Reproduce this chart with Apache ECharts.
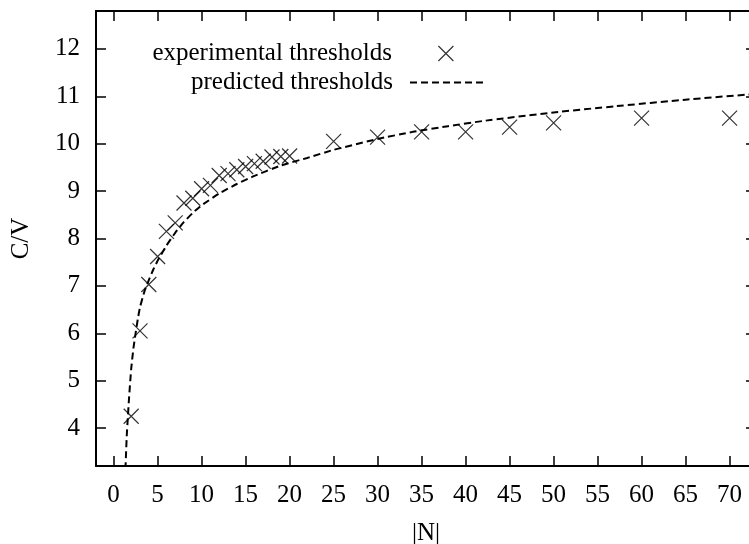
<!DOCTYPE html>
<html><head><meta charset="utf-8">
<script src="https://cdn.jsdelivr.net/npm/echarts@6/dist/echarts.min.js"></script>
<style>html,body{margin:0;padding:0;background:#fff}#c{width:749px;height:544px}</style>
</head><body><div id="c"></div>
<script>
const expN = [2,3,4,5,6,7,8,9,10,11,12,13,14,15,16,17,18,19,20,25,30,35,40,45,50,60,70];
const expV = [4.25,6.05,7.03,7.62,8.15,8.33,8.75,8.85,9.05,9.12,9.33,9.37,9.45,9.52,9.58,9.63,9.72,9.73,9.74,10.05,10.14,10.25,10.25,10.35,10.44,10.54,10.54];
const predN = [1.3,1.4,1.5,1.6,1.75,2,2.25,2.5,2.75,3,3.5,4,4.5,5,6,7,8,9,10,12,14,16,19,22,25,30,34,38,42,50,57,65,73];
const predV = [2.9,3.4,3.86,4.17,4.62,5.25,5.68,6.0,6.3,6.55,6.88,7.12,7.34,7.53,7.85,8.12,8.35,8.54,8.7,8.95,9.15,9.32,9.54,9.7,9.87,10.1,10.25,10.37,10.48,10.66,10.79,10.93,11.05];
const xTicks = [0,5,10,15,20,25,30,35,40,45,50,55,60,65,70];
const yTicks = [4,5,6,7,8,9,10,11,12];

const FONT = 'Liberation Serif';
const chart = echarts.init(document.getElementById('c'), null, {renderer:'canvas'});
const lineAx = {show:true, onZero:false, lineStyle:{color:'#000', width:2}};
const tickIn = vals => ({show:true, inside:true, length:10, customValues:vals, lineStyle:{color:'#000', width:1.5}});
const lab = (vals, show, margin) => ({show:show, customValues:vals, margin:margin, color:'#000', fontFamily:FONT, fontSize:25});
chart.setOption({
  animation:false,
  grid:{left:96, top:11, right:-7, bottom:78, outerBoundsMode:'none', containLabel:false},
  xAxis:[
    {type:'value', min:-2, max:73, position:'bottom', axisLine:lineAx, axisTick:tickIn(xTicks), axisLabel:lab(xTicks,true,17), splitLine:{show:false},
     name:'|N|', nameLocation:'middle', nameGap:55, nameTextStyle:{color:'#000', fontFamily:FONT, fontSize:25}},
    {type:'value', min:-2, max:73, position:'top', axisLine:lineAx, axisTick:tickIn(xTicks), axisLabel:{show:false}, splitLine:{show:false}}
  ],
  yAxis:[
    {type:'value', min:3.2, max:12.8, position:'left', axisLine:lineAx, axisTick:tickIn(yTicks), axisLabel:lab(yTicks,true,16), splitLine:{show:false},
     name:'C/V', nameLocation:'middle', nameGap:62, nameRotate:90, nameTextStyle:{color:'#000', fontFamily:FONT, fontSize:25}},
    {type:'value', min:3.2, max:12.8, position:'right', axisLine:lineAx, axisTick:tickIn(yTicks), axisLabel:{show:false}, splitLine:{show:false}}
  ],
  legend:[
    {data:['experimental thresholds'], align:'right', right:295, top:41, padding:0, itemWidth:98, itemHeight:15,
     textStyle:{color:'#000', fontFamily:FONT, fontSize:25},
     itemStyle:{color:'rgba(0,0,0,0)', borderColor:'#000', borderWidth:1.2}},
    {data:['predicted thresholds'], align:'right', right:264, top:70, padding:0, itemWidth:74, itemHeight:14,
     textStyle:{color:'#000', fontFamily:FONT, fontSize:25, padding:[0,12,0,0]},
     itemStyle:{opacity:0}}
  ],
  series:[
    {name:'experimental thresholds', type:'scatter', xAxisIndex:0, yAxisIndex:0,
     symbol:'path://M0,0L10,10M10,0L0,10', symbolSize:15,
     itemStyle:{color:'rgba(0,0,0,0)', borderColor:'#000', borderWidth:1.2},
     data: expN.map((n,i)=>[n, expV[i]]), z:3},
    {name:'predicted thresholds', type:'line', xAxisIndex:0, yAxisIndex:0, symbol:'none', smooth:0.15, clip:true,
     lineStyle:{color:'#000', width:2, type:[7,4]}, itemStyle:{color:'#000'},
     data: predN.map((n,i)=>[n, predV[i]])}
  ]
});
</script></body></html>
